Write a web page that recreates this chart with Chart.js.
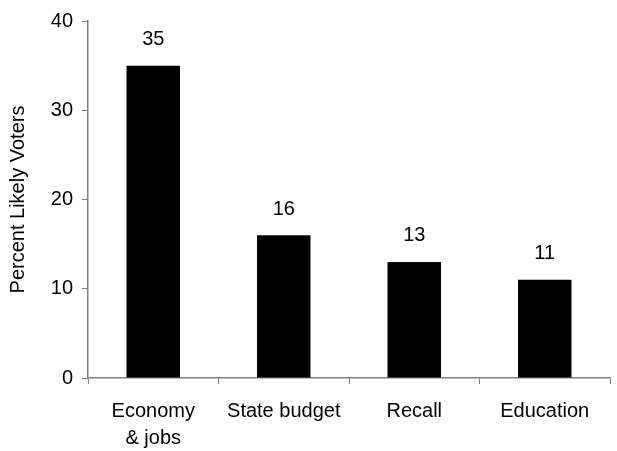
<!DOCTYPE html>
<html>
<head>
<meta charset="utf-8">
<script src="https://cdn.jsdelivr.net/npm/chart.js@4/dist/chart.umd.min.js"></script>
<style>
  html, body { margin: 0; padding: 0; background: #fff; }
  #wrap { width: 617px; height: 451px; }
</style>
</head>
<body>
<div id="wrap"><canvas id="chart" width="617" height="451"></canvas></div>
<script>
// Chart data
const categories = [["Economy", "& jobs"], "State budget", "Recall", "Education"];
const percentValues = [35, 16, 13, 11];
const yTicks = [0, 10, 20, 30, 40];

const FONT = "'Liberation Sans', Arial, sans-serif";
const AXIS_GRAY = "#808080";

// draw value labels above each bar
const barLabels = {
  id: "barLabels",
  afterDatasetsDraw(chart) {
    const ctx = chart.ctx;
    const meta = chart.getDatasetMeta(0);
    ctx.save();
    ctx.font = "20px " + FONT;
    ctx.fillStyle = "#000";
    ctx.textAlign = "center";
    ctx.textBaseline = "middle";
    meta.data.forEach((bar, i) => {
      ctx.fillText(percentValues[i], bar.x, bar.y - 26);
    });
    ctx.restore();
  }
};

const ctx = document.getElementById("chart").getContext("2d");
new Chart(ctx, {
  type: "bar",
  data: {
    labels: categories,
    datasets: [{
      data: percentValues,
      backgroundColor: "#000",
      borderWidth: 0,
      categoryPercentage: 0.41,
      barPercentage: 1
    }]
  },
  options: {
    responsive: false,
    animation: false,
    layout: { padding: { top: 20, right: 7, left: 6, bottom: 0 } },
    plugins: { legend: { display: false }, tooltip: { enabled: false } },
    scales: {
      x: {
        grid: { drawOnChartArea: false, drawTicks: true, tickLength: 6, color: AXIS_GRAY, offset: true },
        border: { color: AXIS_GRAY, width: 1.5 },
        ticks: { color: "#000", font: { family: FONT, size: 20, lineHeight: 1.35 }, padding: 14, maxRotation: 0 },
        afterFit(scale) { scale.height = 73; }
      },
      y: {
        min: 0,
        max: 40,
        afterBuildTicks(scale) { scale.ticks = yTicks.map(v => ({ value: v })); },
        grid: { drawOnChartArea: false, drawTicks: true, tickLength: 6, color: AXIS_GRAY },
        border: { color: AXIS_GRAY, width: 1.5 },
        ticks: { color: "#000", font: { family: FONT, size: 20 }, padding: 9 },
        title: { display: true, text: "Percent Likely Voters", color: "#000", font: { family: FONT, size: 20 }, padding: 0 },
        afterFit(scale) { scale.width = 82; }
      }
    }
  },
  plugins: [barLabels]
});
</script>
</body>
</html>
